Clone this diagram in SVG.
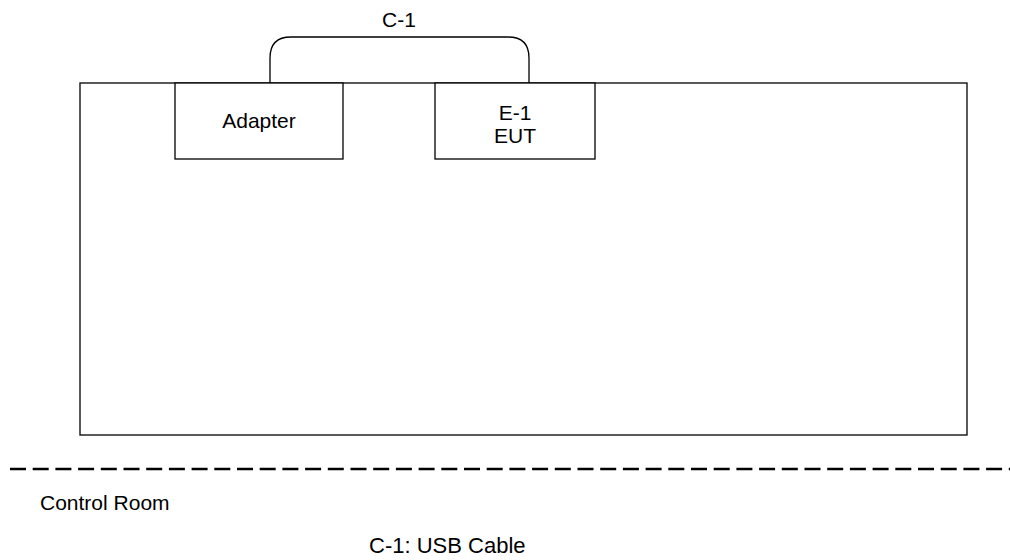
<svg xmlns="http://www.w3.org/2000/svg" width="1010" height="560" viewBox="0 0 1010 560">
  <style>
    .box { fill: #ffffff; stroke: #000000; stroke-width: 1.3; }
    .wire { fill: none; stroke: #000000; stroke-width: 1.3; }
    .lbl { font-family: "Liberation Sans", Arial, sans-serif; font-size: 21px; fill: #000000; }
    .mid { text-anchor: middle; }
    .legend { font-size: 22px; }
  </style>
  <rect width="1010" height="560" fill="#ffffff"/>

  <!-- test room enclosure -->
  <g id="room">
    <rect class="box" x="80" y="83" width="887" height="352"/>
  </g>

  <!-- cable between adapter and EUT -->
  <g id="connectors">
    <path class="wire" d="M270,83 V58 Q270,37 291,37 H508 Q529,37 529,58 V83"/>
    <text class="lbl mid" x="399" y="27">C-1</text>
  </g>

  <g id="adapter">
    <rect class="box" x="175" y="83" width="168" height="76"/>
    <text class="lbl mid" x="259" y="128">Adapter</text>
  </g>

  <g id="eut">
    <rect class="box" x="435" y="83" width="160" height="76"/>
    <text class="lbl mid" x="515" y="120">E-1</text>
    <text class="lbl mid" x="515" y="143">EUT</text>
  </g>

  <!-- boundary to control room -->
  <line x1="10" y1="469" x2="1010" y2="469" stroke="#000000" stroke-width="2.6" stroke-dasharray="16,6.7"/>
  <text class="lbl" x="40" y="510">Control Room</text>
  <text class="lbl legend" x="369" y="553">C-1: USB Cable</text>
</svg>
